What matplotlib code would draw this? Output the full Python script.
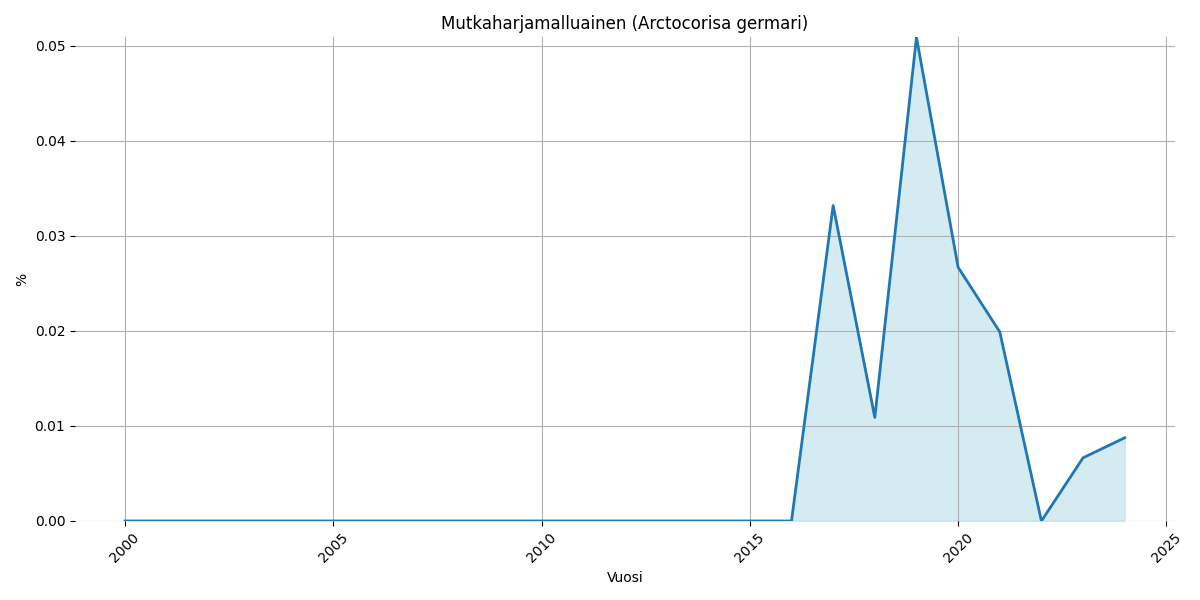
import numpy as np
import matplotlib.pyplot as plt

# Data
vuodet = list(range(2000, 2025))
osuus = [0.0] * 17 + [0.0332, 0.0109, 0.0509, 0.0267, 0.0199, 0.0, 0.00665, 0.00876]

fig, ax = plt.subplots(figsize=(12, 6), dpi=100)

ax.plot(vuodet, osuus, color="#1f77b4", linewidth=2)
ax.fill_between(vuodet, osuus, color="lightblue", alpha=0.5)

ax.set_title("Mutkaharjamalluainen (Arctocorisa germari)")
ax.set_xlabel("Vuosi")
ax.set_ylabel("%")
ax.set_ylim(0, max(osuus))
ax.grid(True)
for s in ax.spines.values():
    s.set_visible(False)
plt.xticks(rotation=45)

plt.tight_layout()
plt.savefig("out.png")
